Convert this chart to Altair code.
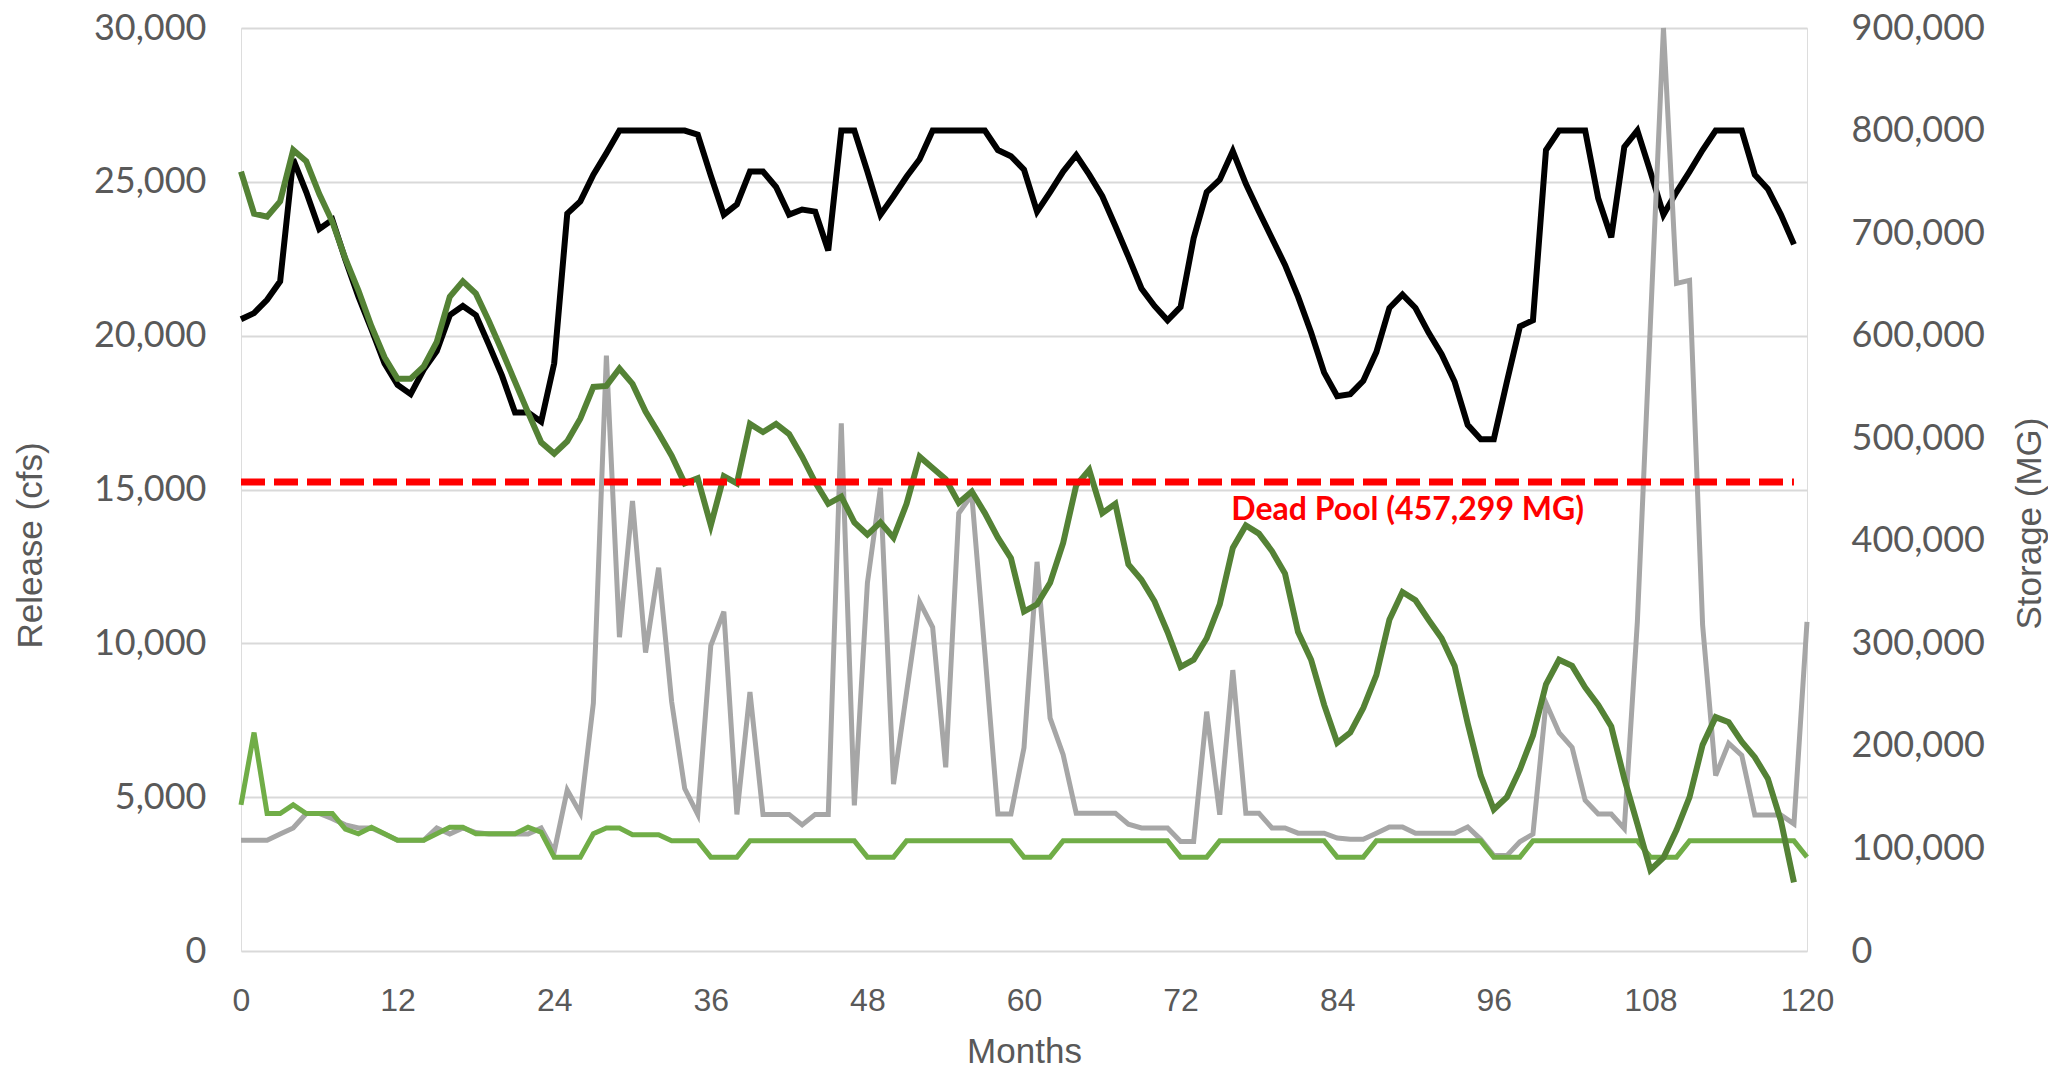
import altair as alt
import pandas as pd

# ---------------- data ----------------
month_ticks = [0, 12, 24, 36, 48, 60, 72, 84, 96, 108, 120]
release_ticks = [0, 5000, 10000, 15000, 20000, 25000, 30000]
storage_ticks = [0, 100000, 200000, 300000, 400000, 500000, 600000, 700000, 800000, 900000]

# storage (MG), months 0..119
storage_black = [
    616000, 622000, 635000, 653000, 772000, 740000, 704000, 713000, 674000, 638000,
    606000, 573000, 552000, 543000, 567000, 585000, 620000, 629000, 620000, 591000,
    561000, 525000, 525000, 516000, 573000, 719000, 731000, 757000, 778000, 800000,
    800000, 800000, 800000, 800000, 800000, 796000, 756000, 718000, 728000, 760000,
    760000, 745000, 718000, 723000, 721000, 683000, 800000, 800000, 760000, 718000,
    736000, 755000, 772000, 800000, 800000, 800000, 800000, 800000, 781000, 775000,
    762000, 721000, 740000, 760000, 776000, 757000, 736000, 707000, 677000, 646000,
    629000, 615000, 628000, 695000, 740000, 752000, 780000, 748000, 721000, 695000,
    669000, 638000, 603000, 564000, 541000, 543000, 556000, 584000, 627000, 640000,
    627000, 603000, 582000, 555000, 513000, 499000, 499000, 555000, 609000, 615000,
    781000, 800000, 800000, 800000, 734000, 696000, 784000, 800000, 760000, 718000,
    740000, 760000, 781000, 800000, 800000, 800000, 757000, 743000, 718000, 689000,
]
storage_green = [
    760000, 719000, 716000, 731000, 781000, 770000, 738000, 711000, 675000, 644000,
    609000, 579000, 558000, 558000, 570000, 594000, 638000, 653000, 641000, 614000,
    585000, 555000, 525000, 496000, 485000, 497000, 519000, 550000, 551000, 568000,
    553000, 526000, 505000, 483000, 456000, 461000, 415000, 463000, 456000, 514000,
    506000, 514000, 504000, 482000, 457000, 436000, 443000, 418000, 406000, 418000,
    403000, 436000, 482000, 471000, 460000, 437000, 448000, 427000, 403000, 383000,
    331000, 338000, 359000, 398000, 454000, 469000, 427000, 436000, 377000, 362000,
    341000, 311000, 277000, 284000, 305000, 338000, 393000, 415000, 407000, 390000,
    368000, 311000, 284000, 240000, 203000, 213000, 237000, 269000, 323000, 350000,
    342000, 323000, 305000, 278000, 222000, 171000, 138000, 150000, 177000, 210000,
    260000, 284000, 278000, 257000, 240000, 219000, 168000, 124000, 79000, 91000,
    118000, 150000, 201000, 228000, 223000, 204000, 189000, 168000, 127000, 67000,
]

# release (cfs), months 0..120
release_gray = [
    3600, 3600, 3600, 3800, 4000, 4470, 4470, 4300, 4100, 4000,
    4000, 3800, 3600, 3600, 3600, 4000, 3800, 4000, 3850, 3800,
    3800, 3800, 3800, 4000, 3230, 5230, 4480, 8050, 19350, 10200,
    14630, 9700, 12460, 8100, 5280, 4440, 9930, 11030, 4440, 8420,
    4440, 4440, 4440, 4100, 4440, 4440, 17150, 4730, 11960, 15050,
    5420, 8400, 11350, 10520, 5970, 14230, 14820, 9700, 4450, 4450,
    6610, 12650, 7570, 6380, 4480, 4480, 4480, 4480, 4120, 4000,
    4000, 4000, 3560, 3560, 7780, 4430, 9130, 4480, 4480, 4000,
    4000, 3830, 3830, 3830, 3670, 3630, 3630, 3830, 4030, 4030,
    3830, 3830, 3830, 3830, 4030, 3630, 3100, 3100, 3550, 3800,
    8060, 7100, 6620, 4900, 4450, 4450, 3980, 10700, 20400, 30000,
    21700, 21800, 10600, 5700, 6750, 6360, 4420, 4420, 4420, 4130,
    10700,
]
release_green = [
    4750, 7100, 4470, 4470, 4750, 4470, 4470, 4470, 3960, 3810,
    4020, 3810, 3600, 3600, 3600, 3810, 4020, 4020, 3810, 3810,
    3810, 3810, 4020, 3860, 3050, 3050, 3050, 3810, 4000, 4000,
    3780, 3780, 3780, 3580, 3580, 3580, 3050, 3050, 3050, 3580,
    3580, 3580, 3580, 3580, 3580, 3580, 3580, 3580, 3050, 3050,
    3050, 3580, 3580, 3580, 3580, 3580, 3580, 3580, 3580, 3580,
    3050, 3050, 3050, 3580, 3580, 3580, 3580, 3580, 3580, 3580,
    3580, 3580, 3050, 3050, 3050, 3580, 3580, 3580, 3580, 3580,
    3580, 3580, 3580, 3580, 3050, 3050, 3050, 3580, 3580, 3580,
    3580, 3580, 3580, 3580, 3580, 3580, 3050, 3050, 3050, 3580,
    3580, 3580, 3580, 3580, 3580, 3580, 3580, 3580, 3050, 3050,
    3050, 3580, 3580, 3580, 3580, 3580, 3580, 3580, 3580, 3580,
    3050,
]

dead_pool = 457299
dead_pool_span = [0, 119]
dead_pool_label = "Dead Pool (457,299 MG)"
label_pos = [89.4, 430000]

# ---------------- tables ----------------
storage_df = pd.DataFrame({
    "Month": list(range(len(storage_black))),
    "Black": storage_black,
    "Green": storage_green,
})
release_df = pd.DataFrame({
    "Month": list(range(len(release_gray))),
    "Gray": release_gray,
    "Green": release_green,
})
pool_df = pd.DataFrame({"Month": [dead_pool_span[0]], "Month2": [dead_pool_span[1]], "y": [dead_pool]})
label_df = pd.DataFrame({"Month": [label_pos[0]], "y": [label_pos[1]], "t": [dead_pool_label]})

# ---------------- styles ----------------
TXT = "#595959"
TICK_FONT = "Lato"
TITLE_FONT = "Liberation Sans"
PLOT_W, PLOT_H = 1566, 923

x_scale = alt.Scale(domain=[0, 120], nice=False, zero=False)
rel_scale = alt.Scale(domain=[0, 30000], nice=False)
sto_scale = alt.Scale(domain=[0, 900000], nice=False)

x_axis = alt.Axis(
    values=month_ticks, title="Months", grid=False, ticks=False, domain=False,
    labelFont=TITLE_FONT, labelFontSize=32, labelColor=TXT, labelPadding=34,
    labelFlush=False, labelOverlap=False,
    titleFont=TITLE_FONT, titleFontSize=35, titleFontWeight="normal", titleColor=TXT,
    titlePadding=18,
)
left_axis = alt.Axis(
    orient="left", values=release_ticks, format=",.0f", title="Release (cfs)",
    grid=True, gridColor="#D9D9D9", gridWidth=2, ticks=False, domain=False,
    labelFont=TICK_FONT, labelFontSize=36, labelColor=TXT, labelPadding=35,
    labelOverlap=False,
    titleFont=TITLE_FONT, titleFontSize=35, titleFontWeight="normal", titleColor=TXT,
    titlePadding=45, titleY=517,
)
right_axis = alt.Axis(
    orient="right", values=storage_ticks, format=",.0f", title="Storage (MG)",
    grid=False, ticks=False, domain=False,
    labelFont=TICK_FONT, labelFontSize=36, labelColor=TXT, labelPadding=44,
    labelOverlap=False,
    titleFont=TITLE_FONT, titleFontSize=35, titleFontWeight="normal", titleColor=TXT,
    titlePadding=28, titleAngle=270, titleBaseline="top", titleY=495,
)

X = alt.X("Month:Q", scale=x_scale, axis=x_axis)

black_line = alt.Chart(storage_df).mark_line(color="#000000", strokeWidth=6).encode(
    x=X, y=alt.Y("Black:Q", scale=sto_scale, axis=right_axis)
)
gray_line = alt.Chart(release_df).mark_line(color="#A6A6A6", strokeWidth=5).encode(
    x=X, y=alt.Y("Gray:Q", scale=rel_scale, axis=left_axis)
)
lgreen_line = alt.Chart(release_df).mark_line(color="#70AD47", strokeWidth=5).encode(
    x=X, y=alt.Y("Green:Q", scale=rel_scale, axis=None)
)
dgreen_line = alt.Chart(storage_df).mark_line(color="#548235", strokeWidth=6).encode(
    x=X, y=alt.Y("Green:Q", scale=sto_scale, axis=None)
)
pool_rule = alt.Chart(pool_df).mark_rule(color="#FF0000", strokeWidth=7, strokeDash=[24, 9]).encode(
    x=X, x2="Month2:Q",
    y=alt.Y("y:Q", scale=sto_scale, axis=None),
)
pool_text = alt.Chart(label_df).mark_text(
    font=TICK_FONT, fontSize=32, fontWeight="bold", color="#FF0000",
    align="center", baseline="middle",
).encode(
    x=X,
    y=alt.Y("y:Q", scale=sto_scale, axis=None),
    text="t:N",
)

chart = alt.layer(
    black_line, gray_line, lgreen_line, dgreen_line, pool_rule, pool_text
).resolve_scale(y="independent").properties(
    width=PLOT_W, height=PLOT_H,
    padding={"left": 5, "right": 0, "top": 2, "bottom": 0},
).configure_view(stroke=None).configure(background="white")

chart.save("out.html", embed_options={"renderer": "svg", "actions": False})
